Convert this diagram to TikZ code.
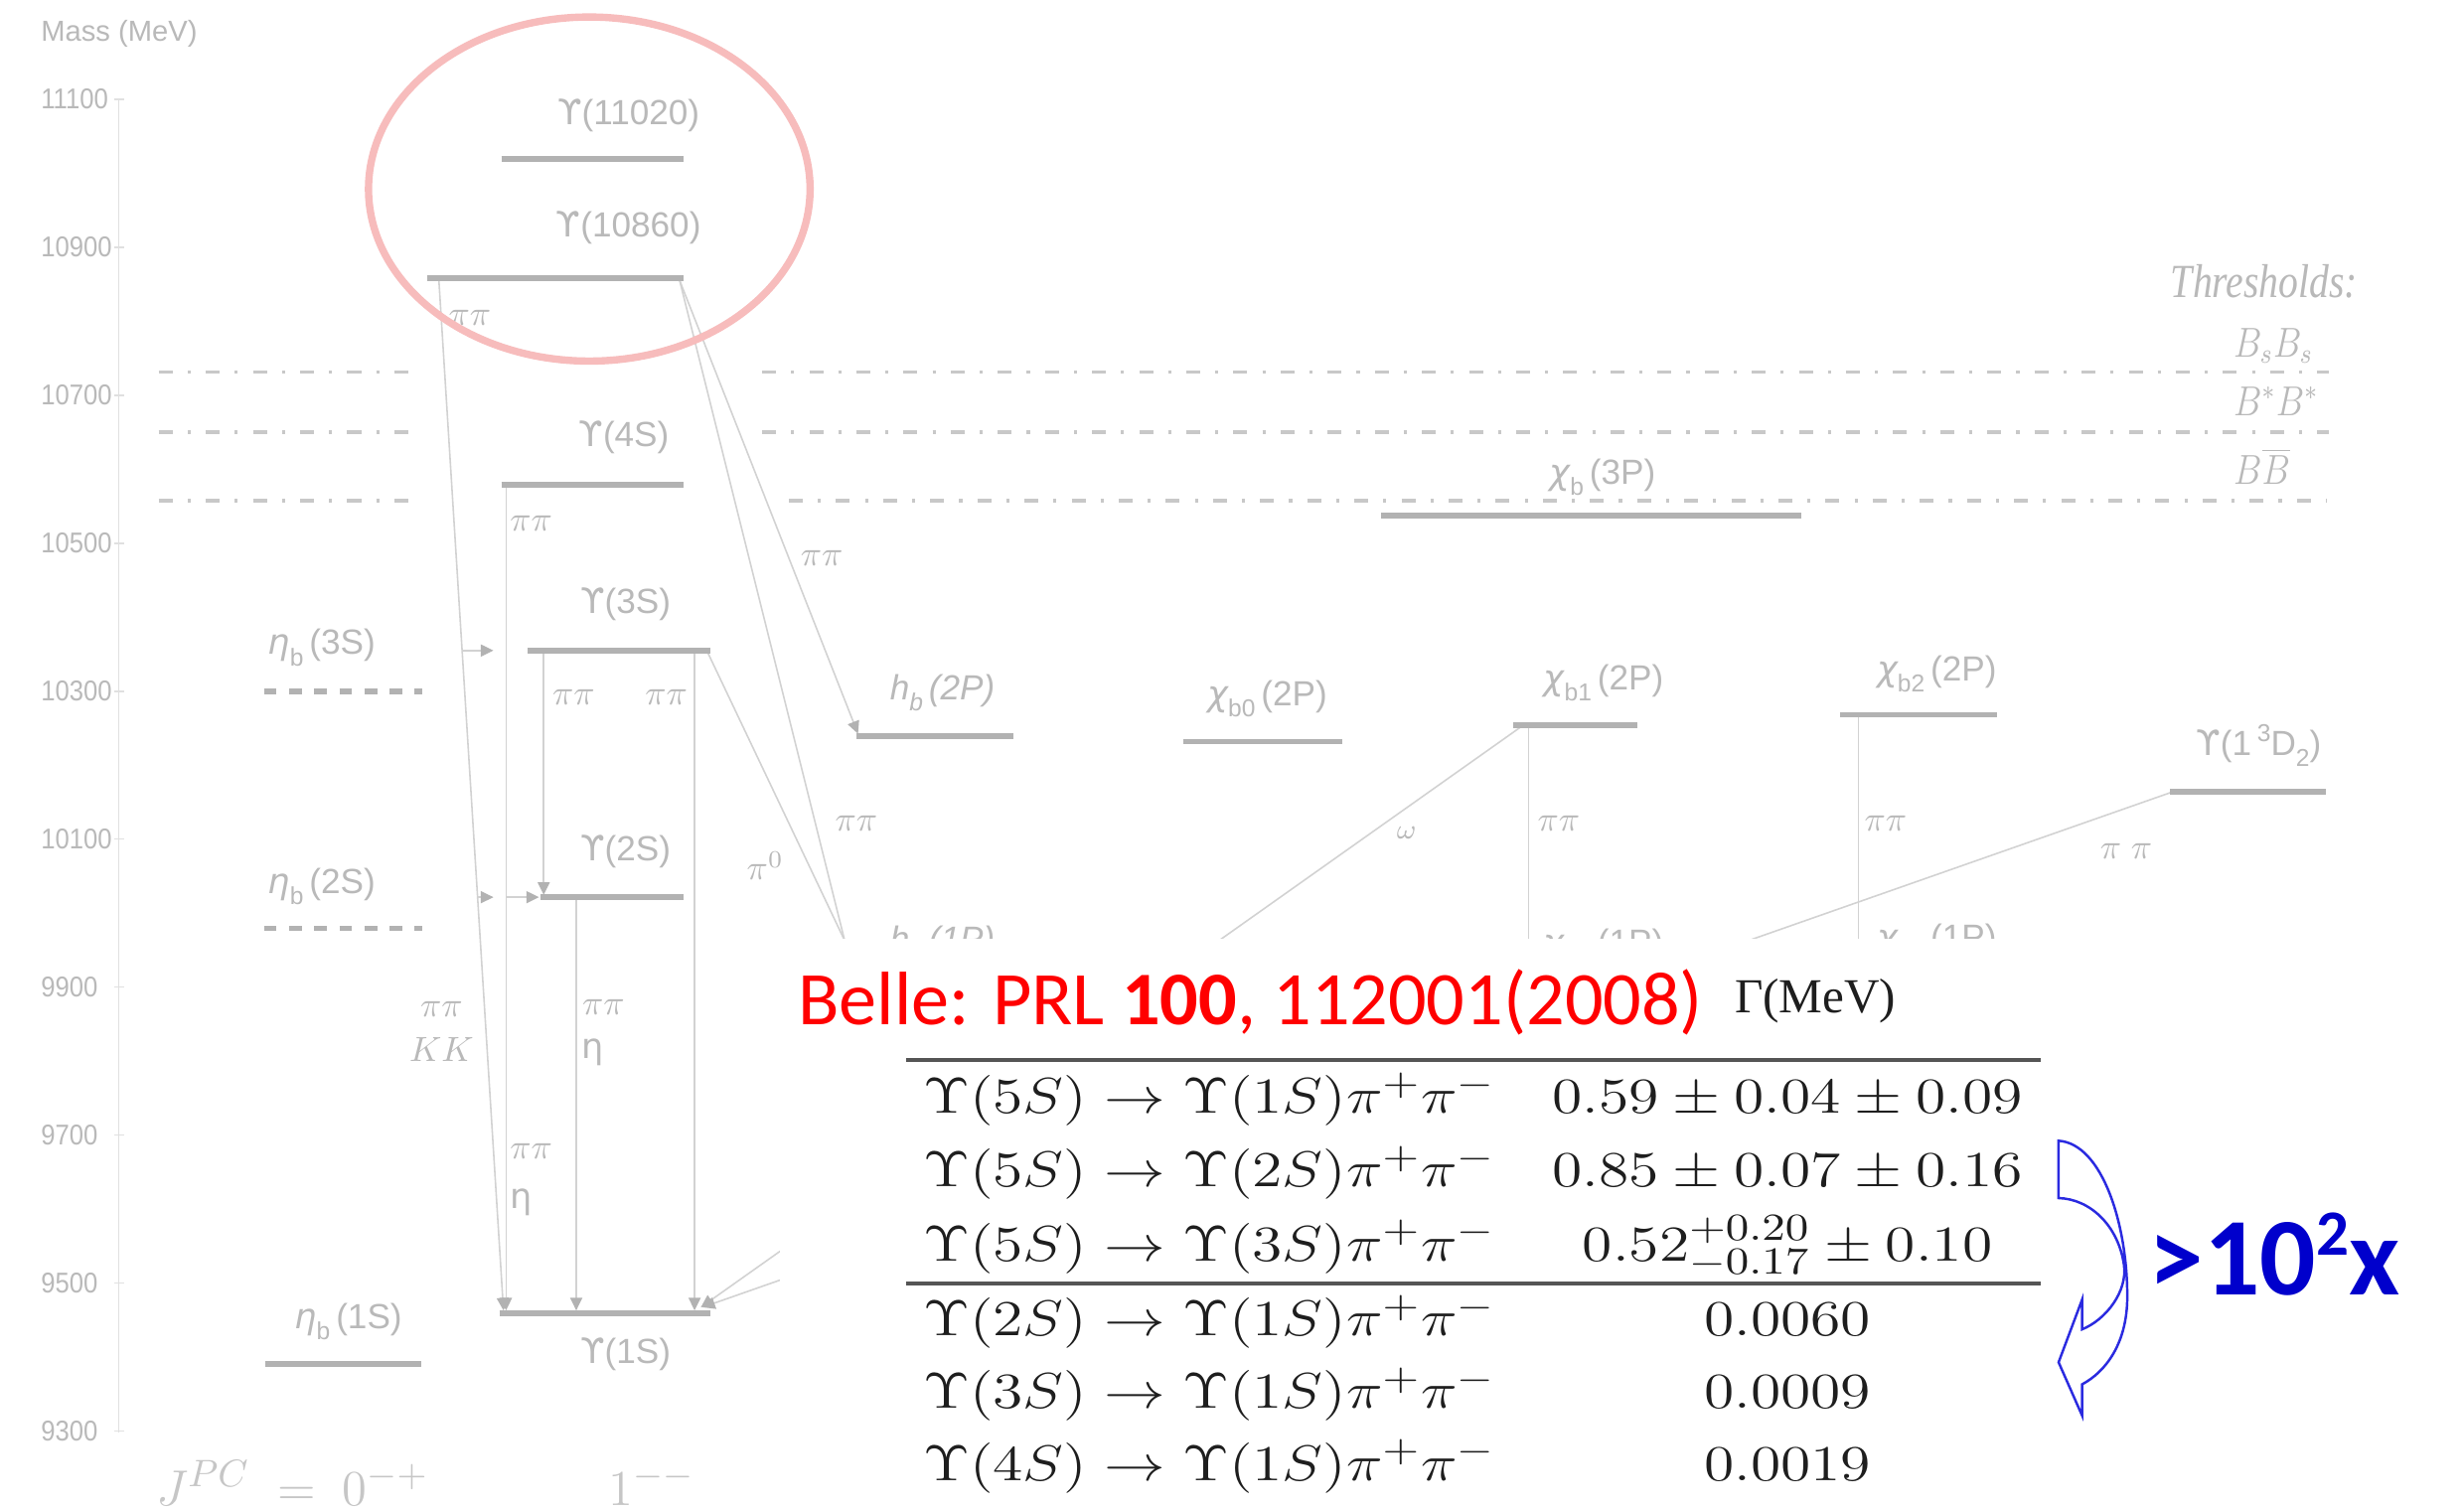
\documentclass[tikz,border=0pt]{standalone}
\usepackage{fontspec}
\usepackage{graphicx}
\usetikzlibrary{arrows.meta}
\newfontfamily\hvf{Liberation Sans}
\newfontfamily\djv{DejaVu Sans}
\newfontfamily\carl{Carlito}
\newfontfamily\tmsf{Liberation Serif}
\definecolor{lvlc}{HTML}{B2B2B2}
\definecolor{trc}{HTML}{D2D2D2}
\definecolor{labc}{HTML}{B9B9B9}
\definecolor{thc}{HTML}{C8C8C8}
\definecolor{axc}{HTML}{E0E0E0}
\definecolor{pinkc}{HTML}{F7BCBC}
\definecolor{bellered}{HTML}{FF0000}
\definecolor{bluex}{HTML}{0000CC}
\definecolor{arrblue}{HTML}{2A2AE0}
\definecolor{tabc}{HTML}{1E1E1E}
\definecolor{rulec}{HTML}{555555}
\definecolor{jpcc}{HTML}{C6C6C6}
\newcommand\lsub[1]{\raisebox{-3.2pt}{\fontsize{7}{8}\selectfont #1}}
\newcommand\upsl{{\djv ϒ}}
\newcommand\etal{{\djv\itshape η}}
\newcommand\chil{{\djv\itshape χ}}
\newcommand\tabfont{\fontsize{15}{18}\selectfont}
\newcommand\trow[1]{\scalebox{1.22}[1]{\tabfont$#1$}}
\begin{document}
\begin{tikzpicture}[x=0.015816cm, y=-0.015816cm,
  lvl/.style={draw=lvlc, line width=1.6pt},
  dlvl/.style={draw=lvlc, line width=1.6pt, dash pattern=on 3.6pt off 3.6pt},
  trl/.style={draw=trc, line width=0.45pt},
  tra/.style={trl, -{Triangle[length=3.6pt,width=3.4pt,color=lvlc]}},
  thr/.style={draw=thc, line width=1pt, dash pattern=on 4pt off 4.3pt on 0.9pt off 4.3pt},
  lab/.style={text=labc, inner sep=0pt, font=\hvf\fontsize{10}{12}\selectfont},
  tlab/.style={text=labc, inner sep=0pt, font=\fontsize{10}{12}\selectfont},
  ticklab/.style={text=labc, inner sep=0pt, font=\hvf\fontsize{8.2}{9}\selectfont},
  tabcell/.style={text=tabc, inner sep=0pt}]
\useasboundingbox (0,0) rectangle (1568,961);
\fill[white] (0,0) rectangle (1568,961);

% axis
\draw[axc, line width=0.5pt] (75.5,63) -- (75.5,912);
\node[anchor=base west, text=labc, inner sep=0pt, font=\hvf\fontsize{8.3}{10}\selectfont] (mass) at (25.7,26.5) {Mass (MeV)};
\foreach \yy/\lb in {63/11100,157.2/10900,251.4/10700,345.6/10500,439.8/10300,534/10100,628.2/9900,722.4/9700,816.6/9500,910.8/9300}{
  \draw[axc, line width=0.5pt] (73,\yy) -- (79,\yy);
  \node[ticklab, anchor=base west] (tk\lb) at (25.7,\yy+6.5) {\scalebox{0.89}[1]{\lb}};
}

% thresholds
\draw[thr] (101,236.7) -- (269,236.7);
\draw[thr] (485,236.7) -- (1482,236.7);
\draw[thr] (101,275) -- (269,275);
\draw[thr] (485,275) -- (1482,275);
\draw[thr] (101,318.6) -- (269,318.6);
\draw[thr] (502,318.6) -- (1480,318.6);
\node[anchor=base west, text=labc, inner sep=0pt, font=\tmsf\itshape\fontsize{13.6}{15}\selectfont] (thrl) at (1381,189.2) {\scalebox{0.83}[1]{Thresholds:}};
\node[anchor=base west, text=labc, inner sep=0pt, font=\fontsize{11.5}{13}\selectfont] (bsbs) at (1421,227) {\scalebox{0.85}[1]{$B_sB_s$}};
\node[anchor=base west, text=labc, inner sep=0pt, font=\fontsize{11.5}{13}\selectfont] (bsbst) at (1421,264.4) {\scalebox{0.85}[1]{$B^*B^*$}};
\node[anchor=base west, text=labc, inner sep=0pt, font=\fontsize{11.5}{13}\selectfont] (bbb) at (1421,308.2) {\scalebox{0.85}[1]{$B\overline{B}$}};

% endpoints of transitions
\coordinate (a1s) at (279.3,178.5); \coordinate (a1e) at (320.4,834);
\coordinate (a2s) at (322,309.5);   \coordinate (a2e) at (322,834);
\coordinate (a3s) at (346,414.5);   \coordinate (a3e) at (346,569.5);
\coordinate (a4s) at (442,414.5);   \coordinate (a4e) at (442,834);
\coordinate (a5s) at (366.7,571.5); \coordinate (a5e) at (366.7,834);
\coordinate (a6s) at (432.5,178.5); \coordinate (a6e) at (546,467);
\coordinate (a7e) at (544.6,627);
\coordinate (a8s) at (450,414.5);   \coordinate (a8e) at (551,627);
\coordinate (a9s) at (968,462.5);   \coordinate (a9e) at (446,832);
\coordinate (a10s) at (972.6,462);  \coordinate (a10e) at (972.6,630);
\coordinate (a11s) at (1182.7,455.5); \coordinate (a11e) at (1182.7,621);
\coordinate (a12s) at (1381,504.5); \coordinate (a12e) at (447,832);
\coordinate (s1s) at (294.2,414);   \coordinate (s1e) at (314,414);
\coordinate (s2s) at (304.1,571);   \coordinate (s2e) at (314,571);
\coordinate (s3s) at (322,571);     \coordinate (s3e) at (343,571);

\draw[tra] (a1s) -- (a1e);
\draw[tra] (a2s) -- (a2e);
\draw[tra] (a3s) -- (a3e);
\draw[tra] (a4s) -- (a4e);
\draw[tra] (a5s) -- (a5e);
\draw[tra] (a6s) -- (a6e);
\draw[trl] (a6s) -- (a7e);
\draw[trl] (a8s) -- (a8e);
\draw[tra] (a9s) -- (a9e);
\draw[trl] (a10s) -- (a10e);
\draw[trl] (a11s) -- (a11e);
\draw[tra] (a12s) -- (a12e);
\draw[tra] (s1s) -- (s1e);
\draw[tra] (s2s) -- (s2e);
\draw[tra] (s3s) -- (s3e);

% levels
\draw[lvl] (319,101) -- (435,101);
\draw[lvl] (272,177) -- (435,177);
\draw[lvl] (319,308.7) -- (435,308.7);
\draw[lvl] (336,414) -- (452,414);
\draw[lvl] (344,571) -- (435,571);
\draw[lvl] (318,835.7) -- (452,835.7);
\draw[dlvl] (168,440) -- (269,440);
\draw[dlvl] (168,590.8) -- (269,590.8);
\draw[lvl] (168.6,868) -- (268,868);
\draw[lvl] (879,328) -- (1146,328);
\draw[lvl] (545,468.6) -- (645,468.6);
\draw[lvl] (753,472) -- (854,472);
\draw[lvl] (963,461.6) -- (1042,461.6);
\draw[lvl] (1171,455) -- (1271,455);
\draw[lvl] (1381,504) -- (1480,504);
\draw[lvl] (545,628.7) -- (645,628.7);
\draw[lvl] (963,631.5) -- (1042,631.5);
\draw[lvl] (1171,622.5) -- (1271,622.5);

% level labels
\node[lab, anchor=base] (l11020) at (400,79.5) {\upsl(11020)};
\node[lab, anchor=base] (l10860) at (400,150.5) {\upsl(10860)};
\node[lab, anchor=base] (l4s) at (397,284) {\upsl(4S)};
\node[lab, anchor=base] (l3s) at (398,390.5) {\upsl(3S)};
\node[lab, anchor=base] (l2s) at (398,548) {\upsl(2S)};
\node[lab, anchor=base] (l1s) at (398,868) {\upsl(1S)};
\node[lab, anchor=base west] (le3) at (170,416.5) {\etal\lsub{b}\,(3S)};
\node[lab, anchor=base west] (le2) at (170,568.5) {\etal\lsub{b}\,(2S)};
\node[lab, anchor=base west] (le1) at (187,845.5) {\etal\lsub{b}\,(1S)};
\node[lab, anchor=base west] (lhb2) at (566,445.5) {\itshape h\lsub{b}\,(2P)};
\node[lab, anchor=base west] (lc0) at (768,449) {\chil\lsub{b0}\,(2P)};
\node[lab, anchor=base west] (lc1) at (982,439) {\chil\lsub{b1}\,(2P)};
\node[lab, anchor=base west] (lc2) at (1194,433.4) {\chil\lsub{b2}\,(2P)};
\node[lab, anchor=base west] (ld) at (1397,480.6) {\upsl(1\,\raisebox{4pt}{\fontsize{7}{8}\selectfont 3}D\lsub{2})};
\node[lab, anchor=base west] (lc3) at (985.6,308) {\chil\lsub{b}\,(3P)};
\node[lab, anchor=base west] (lhb1) at (566,605.5) {\itshape h\lsub{b}\,(1P)};
\node[lab, anchor=base west] (lc11) at (982,607.5) {\chil\lsub{b1}\,(1P)};
\node[lab, anchor=base west] (lc21) at (1194,604) {\chil\lsub{b2}\,(1P)};

% transition labels
\node[tlab] (p1) at (299,202) {$\pi\pi$};
\node[tlab] (p2) at (338,333) {$\pi\pi$};
\node[tlab] (p3) at (523,355) {$\pi\pi$};
\node[tlab] (p4) at (365,444) {$\pi\pi$};
\node[tlab] (p5) at (424,444) {$\pi\pi$};
\node[tlab] (p6) at (545,524) {$\pi\pi$};
\node[tlab] (p7) at (487,551) {$\pi^0$};
\node[tlab] (p8) at (281,642) {$\pi\pi$};
\node[tlab] (p9) at (281,668) {$KK$};
\node[tlab] (p10) at (384,641) {$\pi\pi$};
\node[tlab] (p11) at (377,670) {\djv η};
\node[tlab] (p12) at (338,733) {$\pi\pi$};
\node[tlab] (p13) at (332,765) {\djv η};
\node[tlab, font=\fontsize{8}{9}\selectfont] (p14) at (895,530) {$\omega$};
\node[tlab] (p15) at (992,524) {$\pi\pi$};
\node[tlab] (p16) at (1200,524) {$\pi\pi$};
\node[tlab] (p17) at (1353,542) {$\pi\;\pi$};

% J^PC
\node[anchor=base west, text=jpcc, inner sep=0pt, font=\fontsize{15}{17}\selectfont] (jpc) at (99,958) {$J^{PC}\;=$};
\node[anchor=base west, text=jpcc, inner sep=0pt, font=\fontsize{15}{17}\selectfont] (jpc0) at (217.6,958) {$0^{-+}$};
\node[anchor=base west, text=jpcc, inner sep=0pt, font=\fontsize{15}{17}\selectfont] (jpc1) at (387,958) {$1^{--}$};

% pink ellipse
\draw[pinkc, line width=2.1pt] (375,120.3) ellipse [x radius=140.5, y radius=109.5];

% white box over the lower part
\fill[white] (496.5,597.5) rectangle (1568,961);

% table
\node[anchor=base west, text=bellered, inner sep=0pt, font=\carl\fontsize{21.7}{24}\selectfont] (belle) at (507.5,652.4) {Belle: PRL \textbf{100}, 112001(2008)};
\node[anchor=base west, text=tabc, inner sep=0pt, font=\tmsf\fontsize{14}{16}\selectfont] (gam) at (1103.5,644.4) {Γ(MeV)};
\draw[rulec, line width=1pt] (576.6,674.7) -- (1298.5,674.7);
\draw[rulec, line width=1pt] (576.6,816.8) -- (1298.5,816.8);
\node[tabcell, anchor=base west] (r1l) at (587,708.5) {\trow{\Upsilon(5S)\to\Upsilon(1S)\pi^+\pi^-}};
\node[tabcell, anchor=base west] (r2l) at (587,755.5) {\trow{\Upsilon(5S)\to\Upsilon(2S)\pi^+\pi^-}};
\node[tabcell, anchor=base west] (r3l) at (587,802.5) {\trow{\Upsilon(5S)\to\Upsilon(3S)\pi^+\pi^-}};
\node[tabcell, anchor=base west] (r4l) at (587,850.2) {\trow{\Upsilon(2S)\to\Upsilon(1S)\pi^+\pi^-}};
\node[tabcell, anchor=base west] (r5l) at (587,896.2) {\trow{\Upsilon(3S)\to\Upsilon(1S)\pi^+\pi^-}};
\node[tabcell, anchor=base west] (r6l) at (587,942.2) {\trow{\Upsilon(4S)\to\Upsilon(1S)\pi^+\pi^-}};
\node[tabcell, anchor=base] (r1r) at (1137.5,708.5) {\trow{0.59\pm0.04\pm0.09}};
\node[tabcell, anchor=base] (r2r) at (1137.5,755.5) {\trow{0.85\pm0.07\pm0.16}};
\node[tabcell, anchor=base] (r3r) at (1137.5,802.5) {\trow{0.52^{+0.20}_{-0.17}\pm0.10}};
\node[tabcell, anchor=base] (r4r) at (1137.5,850.2) {\trow{0.0060}};
\node[tabcell, anchor=base] (r5r) at (1137.5,896.2) {\trow{0.0009}};
\node[tabcell, anchor=base] (r6r) at (1137.5,942.2) {\trow{0.0019}};

% blue curved arrow
\draw[arrblue, line width=0.7pt, line join=miter]
  (1310,726) -- (1310,762.5)
  .. controls (1330,763) and (1348,780) .. (1351.6,805)
  .. controls (1354,822) and (1340,840) .. (1325,846)
  -- (1325,827) -- (1310,867) -- (1325,901) -- (1325,881)
  .. controls (1340,873) and (1353.5,855) .. (1353.7,826)
  .. controls (1354,780) and (1338,728) .. (1310,726) -- cycle;
\node[anchor=base west, text=bluex, inner sep=0pt, font=\carl\bfseries\fontsize{31.7}{34}\selectfont] (ratio) at (1367,824.1) {>10\raisebox{11.4pt}{\fontsize{18.5}{20}\selectfont 2}x};
\end{tikzpicture}
\end{document}
